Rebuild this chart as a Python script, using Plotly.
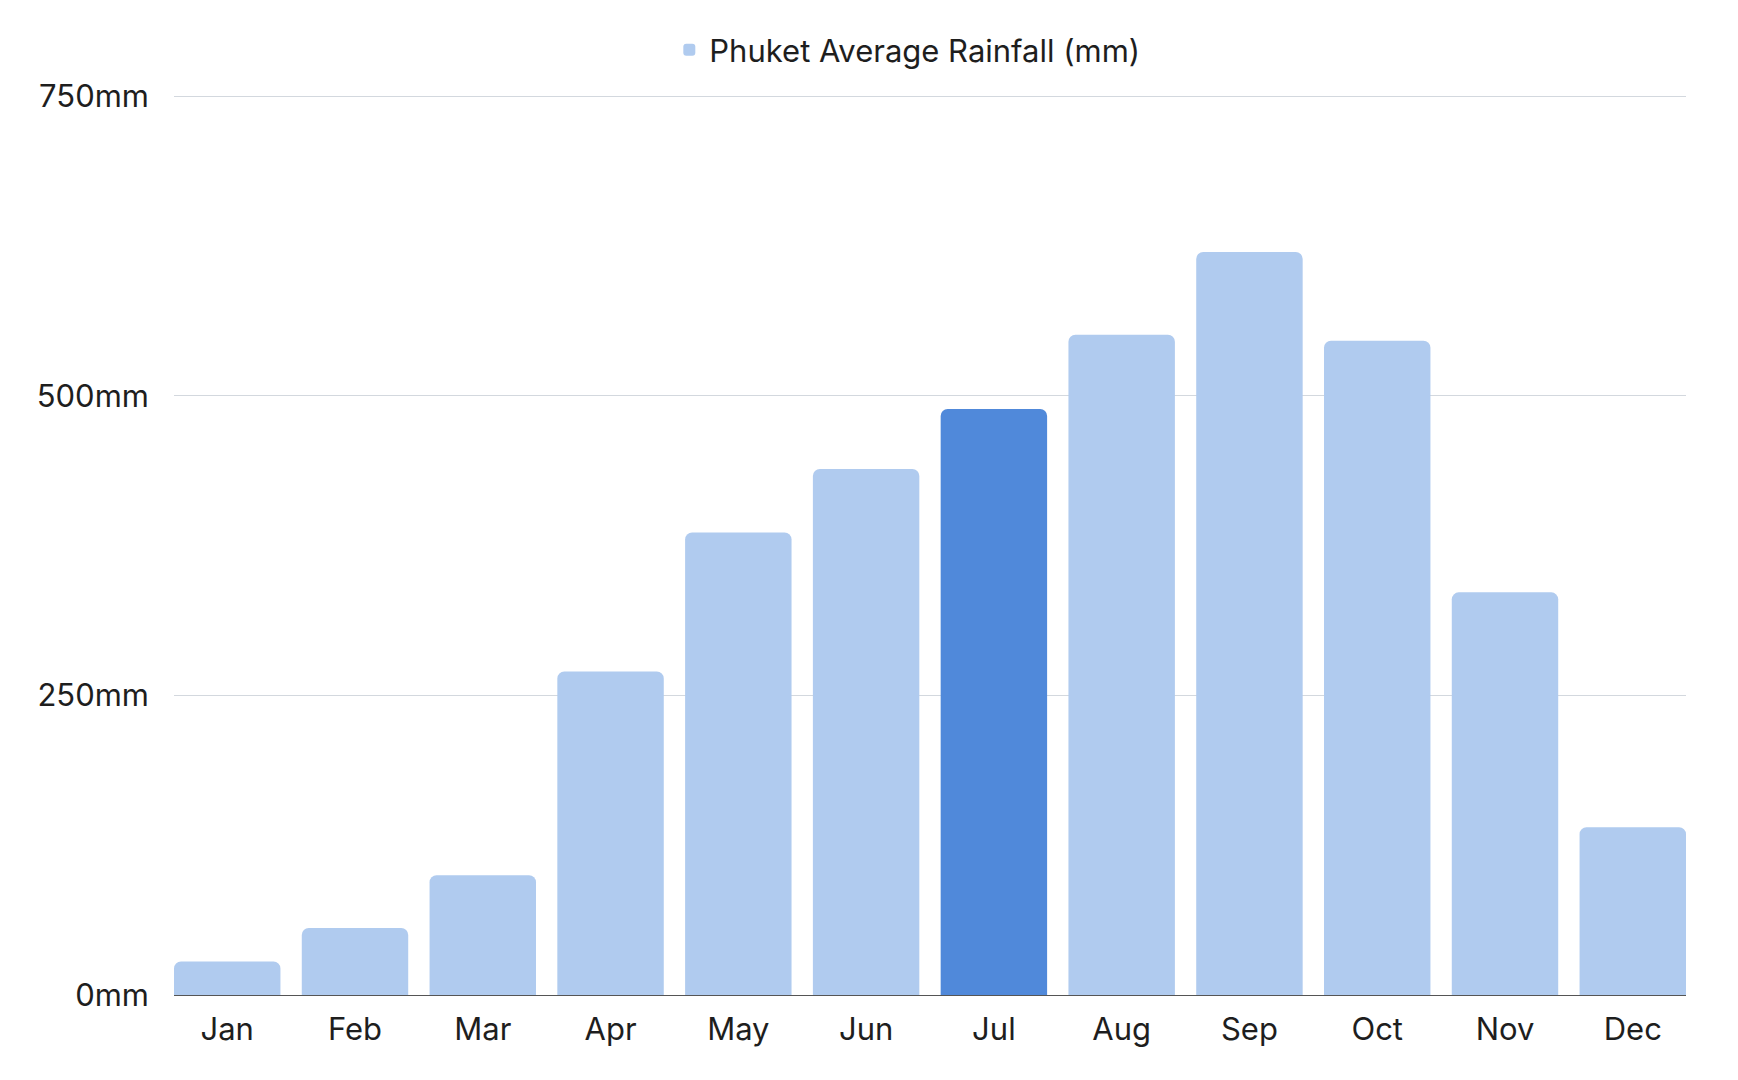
import plotly.graph_objects as go

months = ["Jan", "Feb", "Mar", "Apr", "May", "Jun", "Jul", "Aug", "Sep", "Oct", "Nov", "Dec"]
rainfall_mm = [28, 56, 100, 270, 386, 439, 489, 551, 620, 546, 336, 140]
highlight_month = "Jul"
series_name = "Phuket Average Rainfall (mm)"
y_tick_values = [0, 250, 500, 750]
y_tick_labels = ["0mm", "250mm", "500mm", "750mm"]

light = "#B0CBEF"
dark = "#5089DA"
colors = [dark if m == highlight_month else light for m in months]

gap = 0.167

fig = go.Figure()
fig.add_trace(go.Bar(
    x=months, y=rainfall_mm, name=series_name,
    marker=dict(color=colors, cornerradius=7, line=dict(width=0)),
    showlegend=True,
))

font_family = "Inter, Roboto, sans-serif"
fig.update_layout(
    width=1722, height=1064,
    paper_bgcolor="white", plot_bgcolor="white",
    margin=dict(l=166, r=44, t=87, b=77, autoexpand=False),
    bargap=gap,
    font=dict(family=font_family, size=31, color="#1E1E1E"),
    showlegend=True,
    legend=dict(
        orientation="h", x=0.485, xanchor="center", y=1.05, yanchor="middle",
        font=dict(size=31, color="#1E1E1E"), itemsizing="constant",
        bgcolor="rgba(0,0,0,0)",
    ),
    xaxis=dict(
        range=[-0.5 + gap / 2, len(months) - 0.5 - gap / 2],
        showgrid=False, showline=True, linecolor="#555555", linewidth=1,
        ticks="", tickfont=dict(size=31, color="#1E1E1E"), ticklabelstandoff=7,
        fixedrange=True,
    ),
    yaxis=dict(
        range=[0, 751], tickvals=y_tick_values, ticktext=y_tick_labels,
        showgrid=True, gridcolor="#D3D8DE", gridwidth=1,
        zeroline=False, showline=False, ticks="",
        tickfont=dict(size=31, color="#1E1E1E"), ticklabelstandoff=24,
        fixedrange=True,
    ),
)

fig.write_html("out.html")
